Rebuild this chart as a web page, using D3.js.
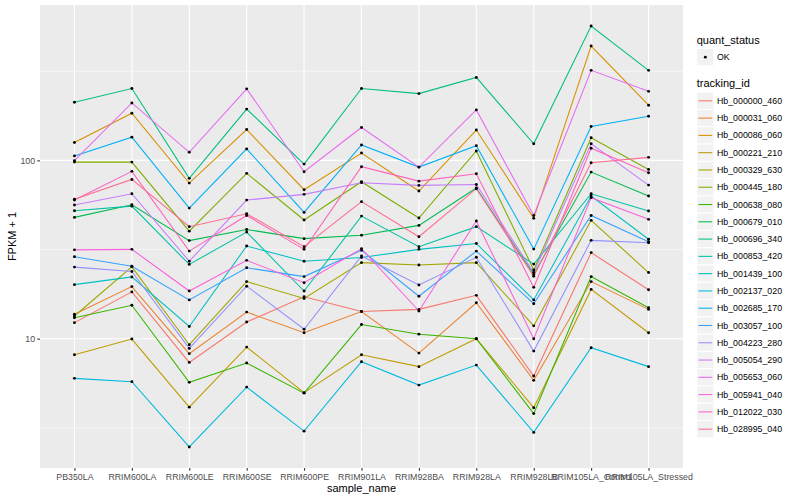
<!DOCTYPE html>
<html>
<head>
    <meta charset="utf-8">
    <title>FPKM + 1 by sample</title>
    <script src="https://d3js.org/d3.v7.min.js"></script>
    <style>
        body { margin: 0; background: #ffffff; }
        text { font-family: "Liberation Sans", Arial, Helvetica, sans-serif; }
    </style>
</head>

<body>
<div id="chart"></div>
<script type="text/javascript">

    // samples on the x axis, in plot order
    const samples = ["PB350LA", "RRIM600LA", "RRIM600LE", "RRIM600SE", "RRIM600PE",
        "RRIM901LA", "RRIM928BA", "RRIM928LA", "RRIM928LB",
        "RRIM105LA_Control", "RRIM105LA_Stressed"];

    const trackingIds = ["Hb_000000_460", "Hb_000031_060", "Hb_000086_060", "Hb_000221_210",
        "Hb_000329_630", "Hb_000445_180", "Hb_000638_080", "Hb_000679_010",
        "Hb_000696_340", "Hb_000853_420", "Hb_001439_100", "Hb_002137_020",
        "Hb_002685_170", "Hb_003057_100", "Hb_004223_280", "Hb_005054_290",
        "Hb_005653_060", "Hb_005941_040", "Hb_012022_030", "Hb_028995_040"];

    // FPKM + 1, one row per tracking_id, one value per sample
    const fpkm = [
        [12.3, 18.3, 7.36, 12.4, 17.2, 14.2, 14.6, 17.5, 6.17, 30.4, 18.8],
        [13.7, 19.6, 8.24, 14.1, 10.8, 14.2, 8.30, 15.9, 5.84, 20.9, 14.6],
        [126, 184, 74.6, 149, 68.5, 110, 67.3, 148, 47.3, 438, 204],
        [8.13, 9.95, 4.13, 8.97, 4.98, 8.13, 6.97, 10.0, 4.10, 18.9, 10.8],
        [13.4, 25.3, 9.25, 20.9, 16.8, 26.7, 25.9, 26.7, 11.8, 46.1, 23.5],
        [97.8, 97.8, 40.1, 84.6, 46.3, 75.9, 47.5, 113, 24.3, 134, 89.0],
        [13.1, 15.4, 5.69, 7.30, 4.95, 12.0, 10.6, 10.0, 3.80, 22.3, 14.9],
        [47.9, 56.4, 35.5, 41.0, 36.4, 38.0, 43.2, 70.0, 22.9, 86.0, 63.1],
        [212, 253, 79.3, 194, 95.3, 253, 237, 292, 124, 567, 320],
        [52.2, 55.4, 26.1, 39.6, 18.5, 48.7, 32.8, 42.5, 26.2, 65.0, 52.0],
        [20.1, 22.2, 11.7, 33.1, 27.2, 28.5, 31.7, 34.2, 16.5, 63.1, 36.1],
        [5.99, 5.74, 2.47, 5.35, 3.03, 7.43, 5.49, 7.11, 2.98, 8.90, 6.97],
        [106, 135, 54.0, 116, 51.1, 122, 91.7, 121, 31.8, 155, 177],
        [28.8, 25.5, 16.5, 25.0, 22.3, 31.3, 17.3, 31.0, 15.7, 49.1, 35.0],
        [25.2, 23.8, 8.82, 19.7, 11.3, 29.1, 20.0, 28.6, 8.52, 35.6, 34.5],
        [56.2, 65.0, 27.2, 59.9, 64.5, 75.0, 72.4, 73.3, 23.5, 124, 72.7],
        [99.6, 210, 111, 252, 86.4, 153, 91.7, 192, 49.1, 320, 244],
        [31.5, 31.7, 18.5, 27.5, 20.6, 32.0, 14.3, 45.7, 10.0, 61.8, 46.7],
        [59.9, 86.8, 31.0, 49.1, 31.7, 92.2, 76.5, 84.2, 19.4, 117, 85.3],
        [60.5, 78.2, 42.5, 50.2, 32.8, 58.7, 37.3, 69.4, 22.4, 97.1, 104]
    ];

    const quantStatus = ["OK"];
    const yTicks = [10, 100];

    // default ggplot hue palette for 20 levels
    const palette = ["#F8766D", "#EA8331", "#D89000", "#C09B00", "#A3A500", "#7CAE00",
        "#39B600", "#00BB4E", "#00BF7D", "#00C1A3", "#00BFC4", "#00BAE0",
        "#00B0F6", "#35A2FF", "#9590FF", "#C77CFF", "#E76BF3", "#FA62DB",
        "#FF62BC", "#FF6C91"];

    function render() {
        let margin = {top: 5, right: 117, bottom: 32, left: 40};
        let w = 800 - margin.left - margin.right;
        let h = 500 - margin.top - margin.bottom;

        let root = d3.select("#chart")
            .append("svg")
                .attr("width", 800)
                .attr("height", 500);

        let svg = root.append("g")
            .attr("transform", "translate(" + margin.left + "," + margin.top + ")");

        // discrete x like ggplot: 0.6 step of padding each side
        let xScale = d3.scalePoint()
            .domain(samples)
            .range([0, w])
            .padding(0.6);

        // log10 y with 5% expansion in log space
        let logExt = d3.extent(fpkm.flat(), function(v) { return Math.log10(v); });
        let pad = (logExt[1] - logExt[0]) * 0.05;
        let yScale = d3.scaleLog()
            .domain([Math.pow(10, logExt[0] - pad), Math.pow(10, logExt[1] + pad)])
            .range([h, 0]);

        // panel
        svg.append("rect")
            .attr("width", w)
            .attr("height", h)
            .attr("fill", "#EBEBEB");

        // minor grid at half decades
        let minor = [];
        for (let k = -1; k < 4; k++) {
            let v = Math.pow(10, k + 0.5);
            if (v > yScale.domain()[0] && v < yScale.domain()[1]) minor.push(v);
        }
        svg.selectAll(".minor")
            .data(minor)
            .enter()
            .append("line")
            .attr("x1", 0).attr("x2", w)
            .attr("y1", function(d) { return yScale(d); })
            .attr("y2", function(d) { return yScale(d); })
            .attr("stroke", "#ffffff")
            .attr("stroke-width", 0.55);

        svg.selectAll(".majory")
            .data(yTicks)
            .enter()
            .append("line")
            .attr("x1", 0).attr("x2", w)
            .attr("y1", function(d) { return yScale(d); })
            .attr("y2", function(d) { return yScale(d); })
            .attr("stroke", "#ffffff")
            .attr("stroke-width", 1.1);

        svg.selectAll(".majorx")
            .data(samples)
            .enter()
            .append("line")
            .attr("y1", 0).attr("y2", h)
            .attr("x1", function(d) { return xScale(d); })
            .attr("x2", function(d) { return xScale(d); })
            .attr("stroke", "#ffffff")
            .attr("stroke-width", 1.1);

        // one line per tracking_id
        let line = d3.line()
            .x(function(d, i) { return xScale(samples[i]); })
            .y(function(d) { return yScale(d); });

        svg.selectAll(".series")
            .data(fpkm)
            .enter()
            .append("path")
            .attr("d", function(d) { return line(d); })
            .attr("fill", "none")
            .attr("stroke", function(d, i) { return palette[i]; })
            .attr("stroke-width", 1.07);

        // points, all quant_status OK
        let pts = [];
        fpkm.forEach(function(row) {
            row.forEach(function(v, j) { pts.push({s: samples[j], v: v}); });
        });
        svg.selectAll("circle")
            .data(pts)
            .enter()
            .append("circle")
            .attr("cx", function(d) { return xScale(d.s); })
            .attr("cy", function(d) { return yScale(d.v); })
            .attr("r", 1.45)
            .attr("fill", "#000000");

        // axes
        let yAxis = d3.axisLeft(yScale)
            .tickValues(yTicks)
            .tickFormat(d3.format("d"))
            .tickSize(2.75)
            .tickPadding(2.2);
        let xAxis = d3.axisBottom(xScale)
            .tickSize(2.75)
            .tickPadding(3.2);

        let gy = svg.append("g").call(yAxis);
        let gx = svg.append("g")
            .attr("transform", "translate(0," + h + ")")
            .call(xAxis);
        [gx, gy].forEach(function(g) {
            g.select(".domain").remove();
            g.selectAll(".tick line").attr("stroke", "#333333").attr("stroke-width", 1.07);
            g.selectAll(".tick text")
                .attr("fill", "#4D4D4D")
                .attr("font-size", "8.8px")
                .attr("font-family", "'Liberation Sans', Arial, sans-serif");
        });

        // axis titles
        svg.append("text")
            .attr("x", w / 2)
            .attr("y", h + 23.5)
            .attr("text-anchor", "middle")
            .attr("font-size", "11px")
            .attr("fill", "#000000")
            .text("sample_name");

        svg.append("text")
            .attr("transform", "rotate(-90)")
            .attr("x", -h / 2)
            .attr("y", -24)
            .attr("text-anchor", "middle")
            .attr("font-size", "11px")
            .attr("fill", "#000000")
            .text("FPKM + 1");

        // legends
        let key = 17.28;
        let lx = 696.7;
        let leg = root.append("g");

        leg.append("text")
            .attr("x", lx).attr("y", 44)
            .attr("font-size", "11px")
            .text("quant_status");

        let qs = leg.selectAll(".qs")
            .data(quantStatus)
            .enter()
            .append("g")
            .attr("transform", function(d, i) { return "translate(" + lx + "," + (48.5 + i * key) + ")"; });
        qs.append("rect")
            .attr("width", key).attr("height", key)
            .attr("fill", "#F2F2F2").attr("stroke", "#ffffff").attr("stroke-width", 1.07);
        qs.append("circle")
            .attr("cx", key / 2).attr("cy", key / 2).attr("r", 1.45)
            .attr("fill", "#000000");
        qs.append("text")
            .attr("x", key + 3).attr("y", key / 2 + 3.1)
            .attr("font-size", "8.8px")
            .text(function(d) { return d; });

        leg.append("text")
            .attr("x", lx).attr("y", 87)
            .attr("font-size", "11px")
            .text("tracking_id");

        let ti = leg.selectAll(".ti")
            .data(trackingIds)
            .enter()
            .append("g")
            .attr("transform", function(d, i) { return "translate(" + lx + "," + (92.2 + i * key) + ")"; });
        ti.append("rect")
            .attr("width", key).attr("height", key)
            .attr("fill", "#F2F2F2").attr("stroke", "#ffffff").attr("stroke-width", 1.07);
        ti.append("line")
            .attr("x1", key * 0.1).attr("x2", key * 0.9)
            .attr("y1", key / 2).attr("y2", key / 2)
            .attr("stroke", function(d, i) { return palette[i]; })
            .attr("stroke-width", 1.07);
        ti.append("text")
            .attr("x", key + 3).attr("y", key / 2 + 3.1)
            .attr("font-size", "8.8px")
            .text(function(d) { return d; });
    }

    render();

</script>
</body>
</html>
